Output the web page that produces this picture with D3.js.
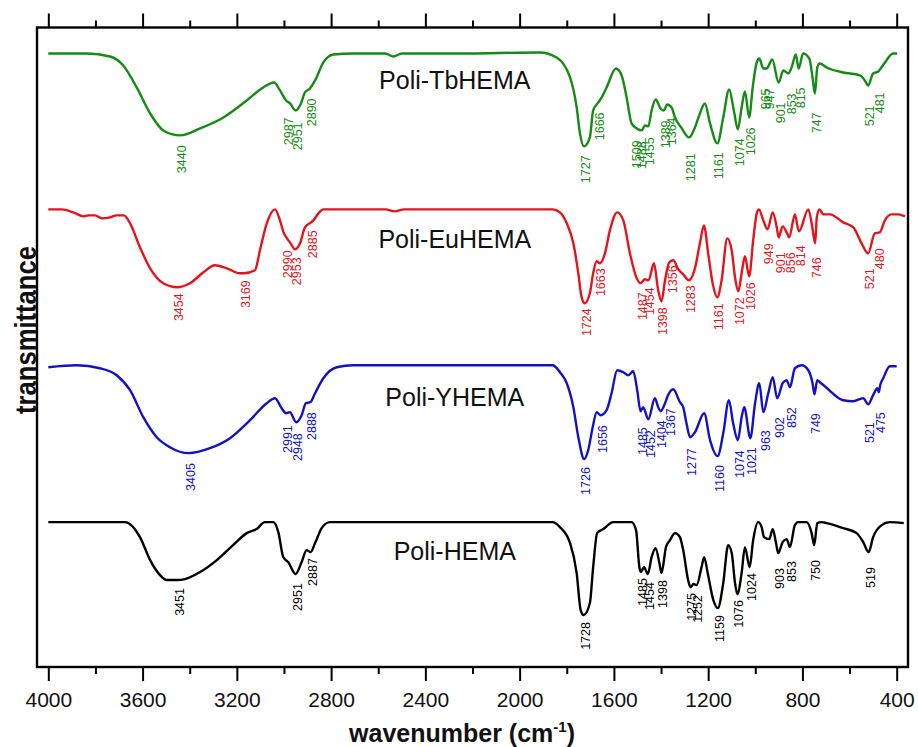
<!DOCTYPE html>
<html><head><meta charset="utf-8">
<script src="https://cdn.jsdelivr.net/npm/d3@7"></script>
<style>
body{margin:0;background:#fff;}
svg{display:block;font-family:"Liberation Sans",Arial,Helvetica,sans-serif;}
</style>
</head><body>
<svg id="chart" width="918" height="747"></svg>
<script>
// ---------- data ----------
const majorTicks = [4000, 3600, 3200, 2800, 2400, 2000, 1600, 1200, 800, 400];
const minorTicks = [3800, 3400, 3000, 2600, 2200, 1800, 1400, 1000, 600];
const seriesNames = ["Poli-TbHEMA", "Poli-EuHEMA", "Poli-YHEMA", "Poli-HEMA"];
const seriesColors = ["#158a15", "#e3141b", "#1212c4", "#000000"];
const nameWavenumber = 2275;
const nameValues = [578, 419, 261, 107];

// [wavenumber cm-1, transmittance a.u. (offset stacked)]
const tbHEMA = [[4000,614],[3837,614],[3738,611],[3682,602],[3625,580],[3568,554],[3512,537],[3440,532],[3356,539],[3257,550],[3158,567],[3088,580],[3042,585],[3017,577],[2991,567],[2974,564],[2951,557],[2928,564],[2911,575],[2890,579],[2868,587],[2833,605],[2791,613],[2706,614],[2570,614],[2536,611],[2500,614],[2253,614],[1914,615],[1843,610],[1786,590],[1758,560],[1744,534],[1727,521],[1702,530],[1688,557],[1666,565],[1652,570],[1631,580],[1591,599],[1567,592],[1546,570],[1525,544],[1503,539],[1482,537],[1468,542],[1454,541],[1440,557],[1423,568],[1402,559],[1388,557],[1374,563],[1355,560],[1341,550],[1312,539],[1281,530],[1256,540],[1235,554],[1214,564],[1192,544],[1161,524],[1136,550],[1111,578],[1091,557],[1074,538],[1058,560],[1044,576],[1026,550],[1011,580],[994,605],[983,609],[966,599],[952,599],[928,608],[901,585],[881,597],[860,594],[846,600],[828,613],[816,599],[797,614],[771,609],[757,590],[747,574],[737,600],[726,604],[697,600],[627,595],[556,592],[535,587],[521,582],[500,594],[478,596],[450,605],[415,614],[398,614]];
const euHEMA = [[4000,458],[3943,458],[3894,455],[3851,451],[3830,452],[3802,452],[3773,449],[3738,450],[3710,452],[3679,452],[3653,444],[3611,420],[3568,399],[3512,384],[3454,380],[3399,384],[3342,395],[3293,402],[3243,399],[3187,394],[3169,394],[3123,397],[3102,417],[3073,444],[3038,458],[3017,447],[3000,434],[2990,430],[2972,424],[2953,418],[2932,424],[2911,440],[2885,445],[2875,447],[2854,454],[2833,458],[2570,458],[2530,456],[2490,458],[1860,458],[1829,455],[1800,444],[1772,424],[1751,394],[1737,370],[1724,364],[1702,374],[1688,394],[1673,406],[1659,404],[1638,414],[1617,437],[1586,455],[1560,447],[1532,414],[1503,389],[1488,384],[1468,388],[1453,387],[1430,404],[1412,377],[1398,366],[1383,387],[1365,405],[1348,407],[1327,398],[1306,393],[1282,387],[1256,399],[1235,424],[1218,442],[1200,414],[1181,384],[1161,370],[1143,387],[1119,429],[1100,417],[1086,390],[1072,376],[1058,394],[1044,411],[1026,391],[1009,427],[994,454],[985,458],[966,447],[948,438],[926,455],[909,440],[901,430],[884,441],[867,435],[856,430],[832,453],[815,436],[775,458],[758,440],[746,424],[739,450],[728,458],[711,453],[683,453],[627,445],[584,440],[549,424],[521,414],[493,434],[472,435],[450,447],[422,453],[394,453],[365,451]];
const yHEMA = [[4000,300],[3880,302],[3781,299],[3710,292],[3653,277],[3597,250],[3540,230],[3484,220],[3405,214],[3314,219],[3229,229],[3144,247],[3073,264],[3038,269],[3010,259],[2991,254],[2975,255],[2948,245],[2925,252],[2907,264],[2888,265],[2868,274],[2833,289],[2776,300],[2706,302],[1860,302],[1829,295],[1800,284],[1772,260],[1751,230],[1726,208],[1709,217],[1690,240],[1673,255],[1656,252],[1631,257],[1610,274],[1586,297],[1560,295],[1539,292],[1518,296],[1501,277],[1487,256],[1476,260],[1454,248],[1426,269],[1412,260],[1402,256],[1383,264],[1374,270],[1348,278],[1320,265],[1306,260],[1292,244],[1277,230],[1256,235],[1217,254],[1192,227],[1160,211],[1136,234],[1112,267],[1094,244],[1074,227],[1058,250],[1047,260],[1021,229],[1001,264],[983,284],[966,255],[945,274],[926,290],[907,269],[884,284],[867,287],[853,280],[832,299],[803,302],[775,297],[757,284],[749,273],[737,287],[726,285],[705,281],[627,267],[584,266],[542,269],[521,263],[500,272],[482,279],[476,275],[470,282],[457,289],[429,301],[400,301]];
const pHEMA = [[4000,145],[3674,145],[3611,130],[3568,107],[3526,92],[3498,87],[3451,87],[3420,88],[3356,95],[3285,107],[3216,122],[3158,134],[3116,138],[3081,145],[3045,145],[3024,135],[3003,110],[2982,105],[2951,93],[2925,105],[2904,117],[2887,115],[2868,124],[2840,139],[2805,145],[1860,145],[1829,140],[1786,124],[1758,94],[1741,57],[1728,52],[1702,64],[1688,100],[1671,134],[1645,138],[1603,145],[1525,145],[1506,137],[1492,100],[1485,95],[1472,100],[1456,93],[1440,110],[1423,119],[1407,104],[1398,94],[1379,120],[1362,127],[1341,134],[1320,130],[1306,117],[1285,87],[1275,80],[1262,83],[1249,82],[1228,100],[1217,110],[1202,94],[1178,67],[1159,59],[1136,84],[1115,122],[1100,114],[1086,84],[1076,73],[1058,94],[1044,120],[1024,100],[1009,127],[988,145],[973,140],[963,130],[941,128],[926,138],[912,124],[903,114],[884,125],[867,128],[853,120],[832,142],[818,145],[782,145],[761,134],[750,122],[737,144],[718,145],[697,144],[627,139],[570,134],[542,125],[519,115],[500,130],[464,142],[429,145],[370,144]];

// peak labels: [wavenumber, value at top of label]
const tbPeaks = [[3440,522],[2987,550],[2951,545],[2890,569],[1727,512],[1666,555],[1509,527],[1488,526],[1455,530],[1389,547],[1364,550],[1281,514],[1161,515],[1074,529],[1026,540],[965,579],[947,579],[901,565],[853,574],[815,580],[747,555],[521,562],[481,575]];
const euPeaks = [[3454,374],[3169,387],[2990,417],[2953,410],[2885,437],[1724,359],[1663,399],[1487,375],[1454,380],[1398,360],[1356,402],[1283,382],[1161,364],[1072,370],[1026,385],[949,424],[901,415],[856,415],[814,422],[746,410],[521,399],[480,419]];
const yPeaks = [[3405,204],[2991,242],[2948,234],[2888,255],[1726,200],[1656,242],[1485,240],[1452,237],[1404,247],[1367,259],[1277,219],[1160,202],[1074,217],[1021,220],[963,237],[902,250],[852,260],[749,254],[521,245],[475,255]];
const hemaPeaks = [[3451,79],[2951,84],[2887,109],[1728,45],[1485,89],[1454,85],[1398,87],[1275,74],[1252,72],[1159,52],[1076,67],[1024,94],[903,99],[853,106],[750,107],[519,100]];

const seriesData = [tbHEMA, euHEMA, yHEMA, pHEMA];
const seriesPeaks = [tbPeaks, euPeaks, yPeaks, hemaPeaks];

// ---------- drawing ----------
const svg = d3.select("#chart");
const plot = {left: 37, right: 908, top: 27.5, bottom: 667};

const x = d3.scaleLinear().domain([4048, 352]).range([plot.left, plot.right]);
const y = d3.scaleLinear().domain([0, 640]).range([plot.bottom, plot.top]);

const line = d3.line()
  .x(d => x(d[0]))
  .y(d => y(d[1]))
  .curve(d3.curveMonotoneX);

// spectra
seriesData.forEach((data, i) => {
  svg.append("path")
    .datum(data)
    .attr("fill", "none")
    .attr("stroke", seriesColors[i])
    .attr("stroke-width", 2.4)
    .attr("stroke-linejoin", "round")
    .attr("d", line);
});

// peak labels
seriesPeaks.forEach((peaks, i) => {
  svg.append("g").selectAll("text")
    .data(peaks)
    .join("text")
    .attr("transform", d => `translate(${x(d[0]) + 2},${y(d[1])}) rotate(-90)`)
    .attr("text-anchor", "end")
    .attr("dominant-baseline", "central")
    .attr("font-size", 12.5)
    .attr("fill", seriesColors[i])
    .text(d => d[0]);
});

// series names
svg.append("g").selectAll("text")
  .data(seriesNames)
  .join("text")
  .attr("x", x(nameWavenumber))
  .attr("y", (d, i) => y(nameValues[i]))
  .attr("text-anchor", "middle")
  .attr("font-size", 25)
  .attr("fill", "#111")
  .text(d => d);

// axes
function addAxis(gen, ticks, size, transform, labels) {
  const g = svg.append("g").attr("transform", transform)
    .call(gen(x).tickValues(ticks).tickSize(size).tickSizeOuter(0)
      .tickFormat(labels ? d3.format("d") : ""));
  g.select(".domain").remove();
  g.selectAll(".tick line").attr("stroke", "#000").attr("stroke-width", 2);
  return g;
}
const bottomMajor = addAxis(d3.axisBottom, majorTicks, 14, `translate(0,${plot.bottom})`, true);
bottomMajor.selectAll(".tick text")
  .attr("y", 40).attr("dy", 0)
  .attr("font-size", 21).attr("fill", "#111")
  .attr("font-family", '"Liberation Sans", Arial, sans-serif');
addAxis(d3.axisBottom, minorTicks, 7, `translate(0,${plot.bottom})`, false);
addAxis(d3.axisTop, majorTicks, 14, `translate(0,${plot.top})`, false);
addAxis(d3.axisTop, minorTicks, 7, `translate(0,${plot.top})`, false);

// frame
svg.append("rect")
  .attr("x", plot.left).attr("y", plot.top)
  .attr("width", plot.right - plot.left).attr("height", plot.bottom - plot.top)
  .attr("fill", "none").attr("stroke", "#000").attr("stroke-width", 2.4);

// axis titles
const xt = svg.append("text")
  .attr("x", 462).attr("y", 742)
  .attr("text-anchor", "middle")
  .attr("font-size", 25).attr("font-weight", "bold").attr("fill", "#111");
xt.append("tspan").text("wavenumber (cm");
xt.append("tspan").attr("font-size", 15).attr("dy", -10).text("-1");
xt.append("tspan").attr("dy", 10).text(")");

svg.append("text")
  .attr("transform", "translate(36,330) rotate(-90)")
  .attr("text-anchor", "middle")
  .attr("font-size", 30).attr("font-weight", "bold").attr("fill", "#111")
  .attr("textLength", 168).attr("lengthAdjust", "spacingAndGlyphs")
  .text("transmittance");
</script>
</body></html>
